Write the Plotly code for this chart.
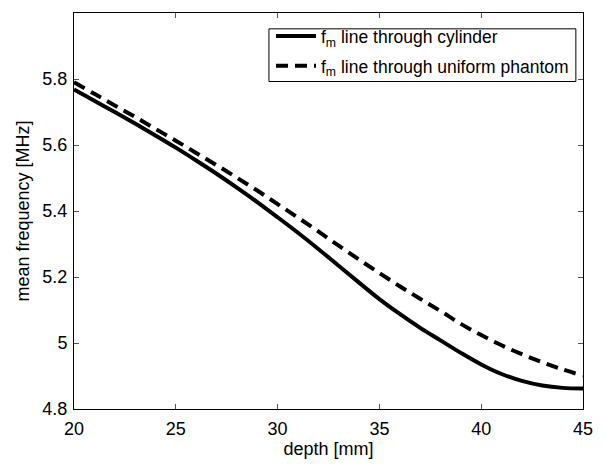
import plotly.graph_objects as go

depth = [20, 21, 22, 23, 24, 25, 26, 27, 28, 29, 30, 31, 32, 33, 34, 35, 36, 37, 38, 39, 40, 41, 42, 43, 44, 45]
fm_cylinder = [5.768, 5.734, 5.700, 5.665, 5.629, 5.592, 5.553, 5.513, 5.471, 5.427, 5.381, 5.334,
               5.285, 5.234, 5.183, 5.133, 5.088, 5.046, 5.008, 4.970, 4.935, 4.906, 4.885, 4.871, 4.864, 4.862]
fm_uniform = [5.790, 5.755, 5.720, 5.685, 5.649, 5.613, 5.576, 5.539, 5.501, 5.462, 5.421, 5.380,
              5.338, 5.295, 5.253, 5.212, 5.172, 5.134, 5.097, 5.058, 5.024, 4.993, 4.966, 4.942, 4.920, 4.901]

x_ticks = [20, 25, 30, 35, 40, 45]
y_ticks = [4.8, 5.0, 5.2, 5.4, 5.6, 5.8]
y_ticktext = ["4.8", "5", "5.2", "5.4", "5.6", "5.8"]

fig = go.Figure()
fig.add_trace(go.Scatter(x=depth, y=fm_cylinder, mode="lines", line_shape="spline",
                         name="f<sub>m</sub> line through cylinder", legendgroup="a",
                         line=dict(color="black", width=4)))
fig.add_trace(go.Scatter(x=depth, y=fm_uniform, mode="lines", line_shape="spline",
                         name="f<sub>m</sub> line through uniform phantom", legendgroup="b",
                         line=dict(color="black", width=4, dash="12px,7px")))

font = "Liberation Sans, Arial, Helvetica, sans-serif"
axis_common = dict(showgrid=False, zeroline=False, showline=True, linecolor="black", linewidth=1,
                   mirror="ticks", ticks="inside", ticklen=5, tickcolor="#555555",
                   tickfont=dict(family=font, size=18, color="black"))

# legend frame (paper coordinates)
fig.add_shape(type="rect", xref="paper", yref="paper", x0=0.383, x1=0.986, y0=0.827, y1=0.960,
              line=dict(color="black", width=1), fillcolor="white", layer="above")

fig.update_layout(
    width=605, height=466,
    margin=dict(l=74, r=19, t=13, b=49),
    paper_bgcolor="white", plot_bgcolor="white",
    font=dict(family=font, size=18, color="black"),
    showlegend=True,
    legend=dict(x=0.387, y=0.987, xanchor="left", yanchor="top",
                borderwidth=0, bgcolor="rgba(0,0,0,0)",
                font=dict(family=font, size=17.5, color="black"),
                tracegroupgap=4, itemwidth=40),
    xaxis=dict(range=[20, 45], tickvals=x_ticks, ticktext=[str(v) for v in x_ticks],
               ticklabelstandoff=3,
               title=dict(text="depth [mm]", standoff=3, font=dict(family=font, size=18)),
               **axis_common),
    yaxis=dict(range=[4.8, 6.0], tickvals=y_ticks, ticktext=y_ticktext,
               ticklabelstandoff=2,
               title=dict(text="mean frequency [MHz]", standoff=8, font=dict(family=font, size=18)),
               **axis_common),
)

fig.write_html("out.html", config={"displayModeBar": False},
               post_script="document.body.style.margin='0';document.body.style.padding='0';")
